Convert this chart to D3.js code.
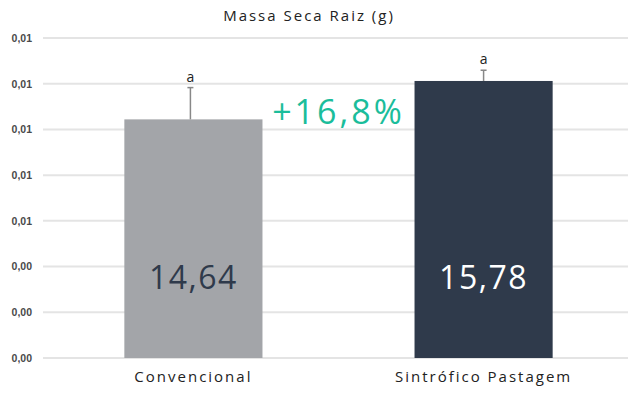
<!DOCTYPE html>
<html>
<head>
<meta charset="utf-8">
<script src="https://cdn.jsdelivr.net/npm/d3@7"></script>
<style>
  body { margin: 0; background: #fff; }
  svg { display: block; font-family: "Open Sans", sans-serif; }
</style>
</head>
<body>
<div id="chart"></div>
<script>
/* dados do gráfico — Massa Seca Raiz (g) */
const categories = ['Convencional', 'Sintrófico Pastagem'];
const means      = [0.01044, 0.01212];
const errors     = [0.00139, 0.00047];
const labels     = ['14,64', '15,78'];
const letters    = ['a', 'a'];
const yTicks     = [0, 0.002, 0.004, 0.006, 0.008, 0.010, 0.012, 0.014];
const diffLabel  = '+16,8%';

const COLORS = {
  conv   : '#a3a5a9',
  sint   : '#2f3a4b',
  grid   : '#e4e4e4',
  teal   : '#1bbd9b',
  tick   : '#4a4a4a',
  text   : '#222'
};

const W = 633, H = 395;
const margin = {top: 38, right: 5, bottom: 37, left: 43};
const width  = W - margin.left - margin.right;
const height = H - margin.top - margin.bottom;

const svg = d3.select('#chart').append('svg')
  .attr('width', W).attr('height', H);

const g = svg.append('g')
  .attr('transform', `translate(${margin.left},${margin.top})`);

// escala x: faixa ajustada para as barras ficarem como no original
const x = d3.scaleBand()
  .domain(categories)
  .range([3, 588])
  .paddingInner(0.524)
  .paddingOuter(0.27);

const y = d3.scaleLinear()
  .domain([0, 0.014])
  .range([height, 0]);

// linhas de grade
g.selectAll('.grid')
  .data(yTicks)
  .join('line')
    .attr('x1', 0).attr('x2', width)
    .attr('y1', d => y(d)).attr('y2', d => y(d))
    .attr('stroke', COLORS.grid)
    .attr('stroke-width', 2);

// eixo y (rótulos com 2 casas, vírgula decimal)
const fmt = d => d3.format('.2f')(d).replace('.', ',');
const yAxis = g.append('g')
  .call(d3.axisLeft(y).tickValues(yTicks).tickFormat(fmt).tickSize(0).tickPadding(11));
yAxis.select('.domain').remove();
yAxis.selectAll('text')
  .attr('fill', COLORS.tick)
  .style('font-size', '10.5px')
  .style('font-weight', 'bold');

// barras
const barColor = i => i === 0 ? COLORS.conv : COLORS.sint;

g.selectAll('.bar')
  .data(categories)
  .join('rect')
    .attr('x', d => x(d))
    .attr('y', (d, i) => y(means[i]))
    .attr('width', x.bandwidth())
    .attr('height', (d, i) => height - y(means[i]))
    .attr('fill', (d, i) => barColor(i));

// barras de erro (só para cima)
categories.forEach((c, i) => {
  const cx = x(c) + x.bandwidth() / 2 - (i === 0 ? 3 : 0);
  const top = y(means[i] + errors[i]);
  g.append('line')
    .attr('x1', cx).attr('x2', cx)
    .attr('y1', y(means[i])).attr('y2', top)
    .attr('stroke', '#888').attr('stroke-width', 1.5);
  g.append('line')
    .attr('x1', cx - 3).attr('x2', cx + 3)
    .attr('y1', top).attr('y2', top)
    .attr('stroke', '#888').attr('stroke-width', 1.5);
  g.append('text')
    .attr('x', cx)
    .attr('y', top - 6)
    .attr('text-anchor', 'middle')
    .attr('fill', COLORS.text)
    .style('font-size', '14px')
    .text(letters[i]);
});

// valores dentro das barras
g.selectAll('.val')
  .data(categories)
  .join('text')
    .attr('x', d => x(d) + x.bandwidth() / 2)
    .attr('y', y(0.003))
    .attr('text-anchor', 'middle')
    .attr('fill', (d, i) => i === 0 ? COLORS.sint : '#fff')
    .style('font-size', '32px')
    .style('letter-spacing', '1.5px')
    .text((d, i) => labels[i]);

// nomes das categorias
g.selectAll('.cat')
  .data(categories)
  .join('text')
    .attr('x', d => x(d) + x.bandwidth() / 2)
    .attr('y', height + 24)
    .attr('text-anchor', 'middle')
    .attr('fill', COLORS.text)
    .style('font-size', '15px')
    .style('letter-spacing', '2px')
    .text(d => d);

// diferença percentual
const midX = (x(categories[0]) + x.bandwidth() + x(categories[1])) / 2;
g.append('text')
  .attr('x', midX)
  .attr('y', y(0.01045) + 5)
  .attr('text-anchor', 'middle')
  .attr('fill', COLORS.teal)
  .style('font-size', '34px')
  .style('letter-spacing', '3px')
  .text(diffLabel);

// título
svg.append('text')
  .attr('x', 309)
  .attr('y', 21)
  .attr('text-anchor', 'middle')
  .attr('fill', COLORS.text)
  .style('font-size', '15px')
  .style('letter-spacing', '2px')
  .text('Massa Seca Raiz (g)');
</script>
</body>
</html>
